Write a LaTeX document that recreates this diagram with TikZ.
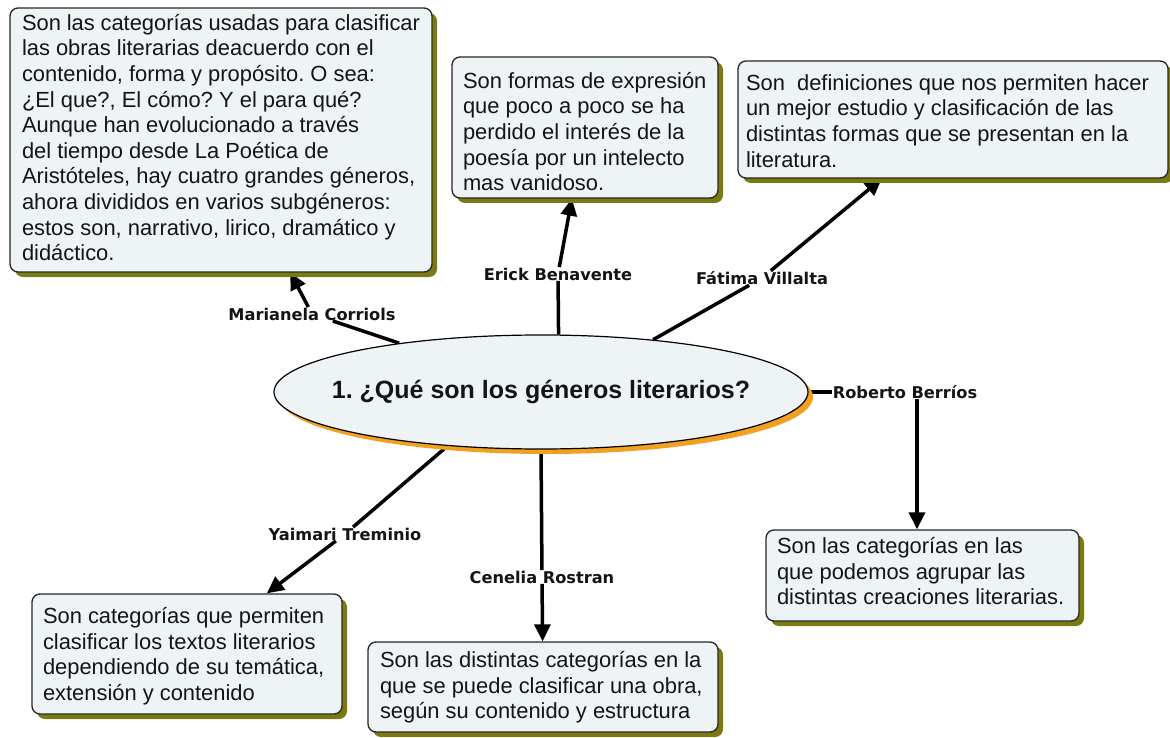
\documentclass[tikz,border=0pt]{standalone}
\usepackage{fontspec}
\setmainfont{Liberation Sans}
\newfontfamily\labfont{DejaVu Sans}
\usetikzlibrary{arrows.meta,shapes.geometric,shadows,backgrounds}
\definecolor{boxfill}{RGB}{238,244,246}
\definecolor{olivesh}{RGB}{122,122,16}
\definecolor{orangesh}{RGB}{242,160,34}
\definecolor{txt}{RGB}{20,20,20}
\frenchspacing
\newcommand\bxt[4]{\parbox[c][#2][t]{#1}{\fontsize{21.9}{25.6}\selectfont\raggedright\rule{0pt}{#3}#4}}
\begin{document}
\begin{tikzpicture}[x=1pt,y=-1pt,
  box/.style={draw=black!85, line width=1.3pt, rounded corners=8pt, fill=boxfill,
    inner xsep=11pt, inner ysep=0pt, text=txt,
    drop shadow={shadow xshift=5pt, shadow yshift=-5pt, fill=olivesh, opacity=1}},
  concept/.style={ellipse, draw=black, line width=1.2pt, fill=boxfill, inner sep=0pt,
    minimum width=534pt, minimum height=114pt, text=txt,
    font=\fontsize{25}{28}\selectfont\bfseries,
    drop shadow={shadow xshift=5pt, shadow yshift=-5pt, fill=orangesh, opacity=1}},
  lab/.style={inner sep=0.5pt, text=txt, font=\labfont\bfseries\fontsize{16.2}{18}\selectfont},
  conn/.style={line width=3.5pt, black},
  arr/.style={conn, -{Triangle[length=17pt,width=16pt]}}]
\useasboundingbox (0,0) rectangle (1170,738);

\node[concept] (ell) at (541,392) {\makebox[0pt]{1. ¿Qué son los géneros literarios?}};

\node[box, inner xsep=12pt] (boxA) at (221,140) {\bxt{398pt}{264pt}{22.4pt}{Son las categorías usadas para clasificar\\ las obras literarias deacuerdo con el\\ contenido, forma y propósito. O sea:\\ ¿El que?, El cómo? Y el para qué?\\ Aunque han evolucionado a través\\ del tiempo desde La Poética de\\ Aristóteles, hay cuatro grandes géneros,\\ ahora divididos en varios subgéneros:\\ estos son, narrativo, lirico, dramático y\\ didáctico.}};
\node[box] (boxB) at (585,127.5) {\bxt{244pt}{141pt}{31.4pt}{Son formas de expresión\\ que poco a poco se ha\\ perdido el interés de la\\ poesía por un intelecto\\ mas vanidoso.}};
\node[box, inner xsep=8pt] (boxC) at (953,119.5) {\bxt{414pt}{117pt}{29.4pt}{Son\ \ definiciones que nos permiten hacer\\ un mejor estudio y clasificación de las\\ distintas formas que se presentan en la\\ literatura.}};
\node[box] (boxD) at (922.5,575.5) {\bxt{291pt}{91pt}{23.4pt}{Son las categorías en las\\ que podemos agrupar las\\ distintas creaciones literarias.}};
\node[box, inner xsep=12pt] (boxE) at (543,687) {\bxt{326pt}{90pt}{25.4pt}{Son las distintas categorías en la\\ que se puede clasificar una obra,\\ según su contenido y estructura}};
\node[box] (boxF) at (187,654) {\bxt{288pt}{120pt}{29.4pt}{Son categorías que permiten\\ clasificar los textos literarios\\ dependiendo de su temática,\\ extensión y contenido}};

\node[lab] (l1) at (312,314) {Marianela Corriols};
\node[lab] (l2) at (558,274) {Erick Benavente};
\node[lab] (l3) at (762,278) {Fátima Villalta};
\node[lab] (l4) at (905,392) {Roberto Berríos};
\node[lab] (l5) at (345,534) {Yaimari Treminio};
\node[lab] (l6) at (542,577) {Cenelia Rostran};
\coordinate (r4) at ([xshift=12pt]l4.south);

\begin{scope}[on background layer]
\fill[white] (0,0) rectangle (1170,738);
\draw[conn] (ell.161) -- (l1);
\draw[arr] (l1) -- (boxA);
\draw[conn] (ell.73) -- (l2);
\draw[arr] (l2) -- (boxB);
\draw[conn] (ell.25) -- (l3);
\draw[arr] (l3) -- (boxC);
\draw[conn] (ell.east) -- (l4.west);
\draw[arr] (r4) -- (r4 |- boxD.north);
\draw[conn] (ell.210) -- (l5);
\draw[arr] (l5) -- (boxF);
\draw[conn] (ell.south) -- (l6);
\draw[arr] (l6) -- (boxE);
\end{scope}
\end{tikzpicture}
\end{document}
